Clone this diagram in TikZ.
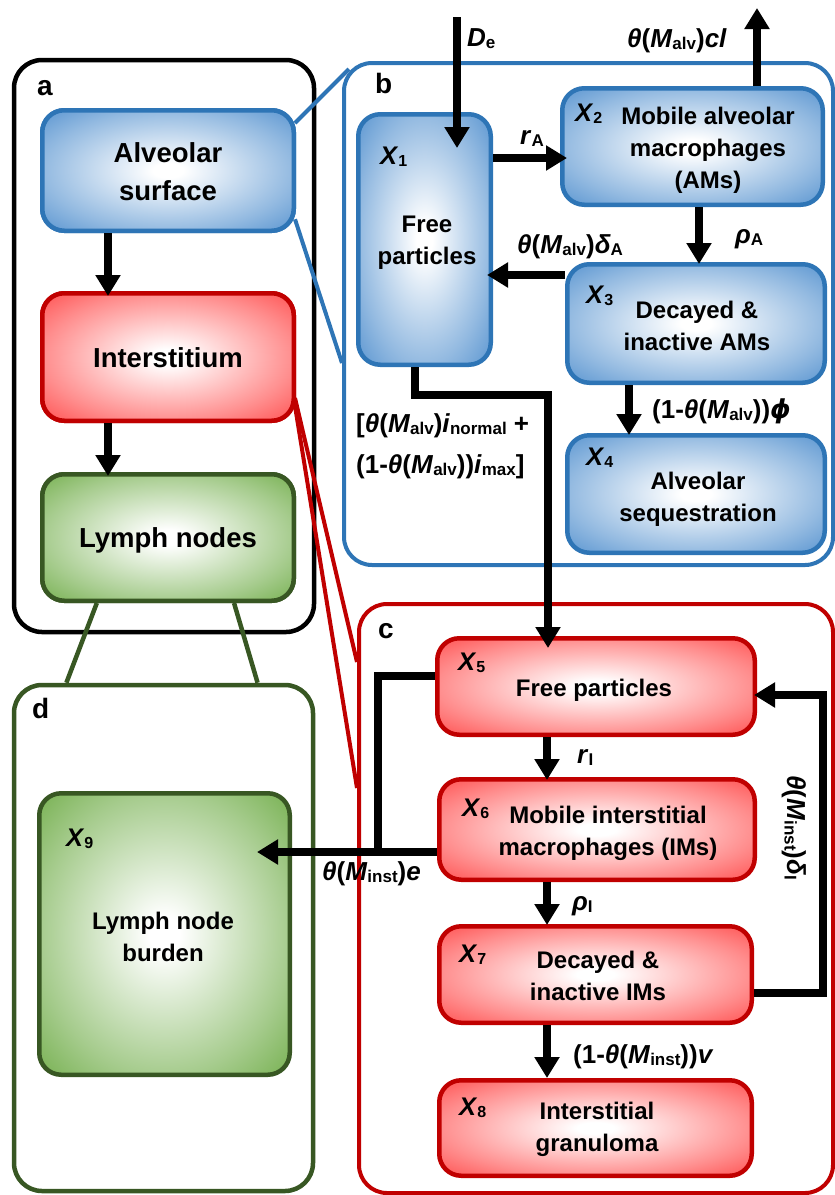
\documentclass[tikz,border=0pt]{standalone}
\usepackage{fontspec}
\setmainfont{Liberation Sans}
\newfontfamily\dvfont{DejaVu Sans}
\usetikzlibrary{arrows.meta,calc}
\definecolor{bluebd}{RGB}{46,117,182}
\definecolor{bluefill}{RGB}{88,148,208}
\definecolor{redbd}{RGB}{192,0,0}
\definecolor{redfill}{RGB}{255,80,80}
\definecolor{greenbd}{RGB}{56,87,35}
\definecolor{greenfill}{RGB}{118,176,80}
\pgfdeclareradialshading{blueshade}{\pgfpoint{0bp}{0bp}}{color(0bp)=(white); color(3bp)=(white); color(25bp)=(bluefill!65!white); color(36bp)=(bluefill); color(50bp)=(bluefill)}
\pgfdeclareradialshading{redshade}{\pgfpoint{0bp}{0bp}}{color(0bp)=(white); color(3bp)=(white); color(25bp)=(redfill!65!white); color(36bp)=(redfill); color(50bp)=(redfill)}
\pgfdeclareradialshading{greenshade}{\pgfpoint{0bp}{0bp}}{color(0bp)=(white); color(3bp)=(white); color(25bp)=(greenfill!65!white); color(36bp)=(greenfill); color(50bp)=(greenfill)}
\newcommand{\mvar}[1]{\textit{#1}}
\newcommand{\phiv}{{\dvfont\bfseries\itshape ϕ}}
\newcommand{\sbx}[1]{\raisebox{-2pt}{\fontsize{16}{16}\selectfont #1}}
\newcommand{\sbl}[1]{\raisebox{-2.5pt}{\fontsize{17}{17}\selectfont #1}}
\tikzset{
  panel/.style={rectangle, rounded corners=28pt, inner sep=0pt, line width=4.5pt},
  box/.style={rectangle, rounded corners=22pt, inner sep=0pt, line width=4.5pt, shade},
  bbox/.style={box, draw=bluebd, shading=blueshade},
  rbox/.style={box, draw=redbd, shading=redshade},
  gbox/.style={box, draw=greenbd, shading=greenshade},
  txt/.style={font=\bfseries\fontsize{24}{32}\selectfont, align=center, inner sep=0pt},
  bigtxt/.style={font=\bfseries\fontsize{27.5}{38}\selectfont, align=center, inner sep=0pt},
  xl/.style={font=\bfseries\fontsize{25.5}{28}\selectfont, inner sep=0pt, anchor=base west},
  lab/.style={font=\bfseries\fontsize{26}{30}\selectfont, inner sep=0pt, anchor=base west},
  plab/.style={font=\bfseries\fontsize{28}{30}\selectfont, inner sep=0pt, anchor=base west},
  arr/.style={draw=black, line width=7.5pt, -{Triangle[width=24pt,length=21pt]}},
  flow/.style={draw=black, line width=7.5pt},
  zl/.style={line width=4pt}
}
\begin{document}
\begin{tikzpicture}[x=1pt,y=-1pt]
\useasboundingbox (0,0) rectangle (835,1195);
% panels
\node[panel, draw=black, minimum width=300pt, minimum height=572pt] (pa) at (164,346) {};
\node[panel, draw=bluebd, line width=4pt, minimum width=489pt, minimum height=502pt] (pb) at (588.5,314) {};
\node[panel, draw=redbd, line width=4pt, minimum width=474pt, minimum height=589pt] (pc) at (596,898.5) {};
\node[panel, draw=greenbd, minimum width=299pt, minimum height=506pt] (pd) at (163.5,938) {};
\node[plab] (la) at (37,95) {a};
\node[plab] (lb) at (375,93) {b};
\node[plab] (lc) at (378,638) {c};
\node[plab] (ld) at (32,718) {d};
% panel a boxes (placed first to be anchors of the zoom lines)
\node[bbox, minimum width=251.5pt, minimum height=120.5pt] (alv) at (168,170.5) {};
\node[rbox, minimum width=251.5pt, minimum height=127.5pt] (int) at (168,357) {};
\node[gbox, minimum width=251.5pt, minimum height=126.5pt] (lym) at (168,537.5) {};
% zoom lines
\draw[zl, draw=bluebd] ($(alv.north east)!0.12!(alv.south east)+(-1,0)$) -- ($(pb.north west)+(7,8)$);
\draw[zl, draw=bluebd] ($(alv.north east)!0.89!(alv.south east)+(-1,0)$) -- ($(pb.north west)+(0,302)$);
\draw[zl, draw=redbd] ($(int.east)+(-1,41)$) -- ($(pc.north west)+(0,60)$);
\draw[zl, draw=redbd] ($(int.east)+(-1,49)$) -- ($(pc.north west)+(0,186)$);
\draw[zl, draw=greenbd, line width=4.5pt] ($(lym.south west)!0.222!(lym.south east)$) -- ($(pd.north west)!0.18!(pd.north east)$);
\draw[zl, draw=greenbd, line width=4.5pt] ($(lym.south west)!0.758!(lym.south east)$) -- ($(pd.north west)!0.81!(pd.north east)$);
% redraw panel a boxes on top of zoom lines
\node[bbox, minimum width=251.5pt, minimum height=120.5pt] at (alv) {};
\node[rbox, minimum width=251.5pt, minimum height=127.5pt] at (int) {};
\node[gbox, minimum width=251.5pt, minimum height=126.5pt] at (lym) {};
\node[bigtxt] (talv) at (168,172) {Alveolar\\surface};
\node[bigtxt] (tint) at (168,358) {Interstitium};
\node[bigtxt] (tlym) at (168,540) {Lymph nodes};
% panel b boxes
\node[bbox, minimum width=132.5pt, minimum height=250.5pt] (X1) at (424.5,239.5) {};
\node[bbox, minimum width=260.5pt, minimum height=116.5pt] (X2) at (692.5,146.5) {};
\node[bbox, minimum width=257.5pt, minimum height=118.5pt] (X3) at (696,323.5) {};
\node[bbox, minimum width=257.5pt, minimum height=117.5pt] (X4) at (696,494) {};
% panel c boxes
\node[rbox, minimum width=317.5pt, minimum height=96.5pt] (X5) at (596,686.5) {};
\node[rbox, minimum width=315.5pt, minimum height=100.5pt] (X6) at (597,829.5) {};
\node[rbox, minimum width=312.5pt, minimum height=96.5pt] (X7) at (595.5,974.5) {};
\node[rbox, minimum width=312.5pt, minimum height=95.5pt] (X8) at (595.5,1128) {};
% panel d box
\node[gbox, minimum width=250.5pt, minimum height=281.5pt] (X9) at (164.5,934) {};
% box texts
\node[txt] (t1) at (427,243) {Free\\particles};
\node[txt] (t2) at (708,150) {Mobile alveolar\\macrophages\\(AMs)};
\node[txt] (t3) at (697,326) {Decayed \&\\inactive AMs};
\node[txt] (t4) at (698,499) {Alveolar\\sequestration};
\node[txt] (t5) at (594,690) {Free particles};
\node[txt] (t6) at (608,833) {Mobile interstitial\\macrophages (IMs)};
\node[txt] (t7) at (598,976) {Decayed \&\\inactive IMs};
\node[txt] (t8) at (597,1129) {Interstitial\\granuloma};
\node[txt] (t9) at (163,937) {Lymph node\\burden};
\node[xl] (x1) at (380,164) {\mvar{X}\sbx{1}};
\node[xl] (x2) at (575,121) {\mvar{X}\sbx{2}};
\node[xl] (x3) at (586,303) {\mvar{X}\sbx{3}};
\node[xl] (x4) at (586,465) {\mvar{X}\sbx{4}};
\node[xl] (x5) at (458,670) {\mvar{X}\sbx{5}};
\node[xl] (x6) at (462,816) {\mvar{X}\sbx{6}};
\node[xl] (x7) at (459,962) {\mvar{X}\sbx{7}};
\node[xl] (x8) at (459,1115) {\mvar{X}\sbx{8}};
\node[xl] (x9) at (66,846) {\mvar{X}\sbx{9}};
% connectors
\coordinate (Din) at (457,17);
\coordinate (Cout) at (757,8);
\coordinate (jn) at (378,852);
\draw[arr, shorten >=-5pt] (alv.south-|108,0) -- (int.north-|108,0);
\draw[arr, shorten >=-4pt] (int.south-|108,0) -- (lym.north-|108,0);
\draw[arr, shorten >=-36pt] (Din) -- (Din|-X1.north);
\draw[arr, shorten >=-7pt] (X1.east|-0,158) -- (X2.west|-0,158);
\draw[arr] (X2.north-|Cout) -- (Cout);
\draw[arr, shorten >=-2pt] (X2.south-|699,0) -- (X3.north-|699,0);
\draw[arr, shorten >=-6pt] (X3.west|-0,275) -- (X1.east|-0,275);
\draw[arr, shorten >=-2pt] (X3.south-|629,0) -- (X4.north-|629,0);
\draw[arr, shorten >=-12pt] (X1.south-|415,0) -- ++(0,28) -| (X5.north-|548,0);
\draw[flow] (X5.west|-0,676) -| (jn);
\draw[arr, shorten >=-35pt] (X6.west|-jn) -- (X9.east|-jn);
\draw[arr, shorten >=-3pt] (X5.south-|547,0) -- (X6.north-|547,0);
\draw[arr, shorten >=-1pt] (X6.south-|547,0) -- (X7.north-|547,0);
\draw[arr] (X7.south-|547,0) -- (X8.north-|547,0);
\draw[arr, shorten >=-3pt] (X7.east|-0,993) -| (823,695) -- (X5.east|-0,695);
% rate labels
\node[lab] (lDe) at (467,46) {\mvar{D}\sbl{e}};
\node[lab] (lrA) at (520,144) {\mvar{r}\sbl{A}};
\node[lab] (lcl) at (627,47) {\mvar{θ}(\mvar{M}\sbl{alv})\mvar{cl}};
\node[lab] (lrhoA) at (735,243) {\mvar{ρ}\sbl{A}};
\node[lab] (ldA) at (517,253) {\mvar{θ}(\mvar{M}\sbl{alv})\mvar{δ}\sbl{A}};
\node[lab] (lphi) at (652,418) {(1-\mvar{θ}(\mvar{M}\sbl{alv}))\phiv};
\node[lab] (li1) at (356,432) {[\mvar{θ}(\mvar{M}\sbl{alv})\mvar{i}\sbl{normal} +};
\node[lab] (li2) at (356,473) {(1-\mvar{θ}(\mvar{M}\sbl{alv}))\mvar{i}\sbl{max}]};
\node[lab] (lrI) at (577,763) {\mvar{r}\sbl{I}};
\node[lab] (le) at (322,880) {\mvar{θ}(\mvar{M}\sbl{inst})\mvar{e}};
\node[lab] (lrhoI) at (572,910) {\mvar{ρ}\sbl{I}};
\node[lab] (lv) at (573,1063) {(1-\mvar{θ}(\mvar{M}\sbl{inst}))\mvar{v}};
\node[lab, rotate=-90] (ldI) at (787,775) {\mvar{θ}(\mvar{M}\sbl{inst})\mvar{δ}\sbl{I}};
\end{tikzpicture}
\end{document}
